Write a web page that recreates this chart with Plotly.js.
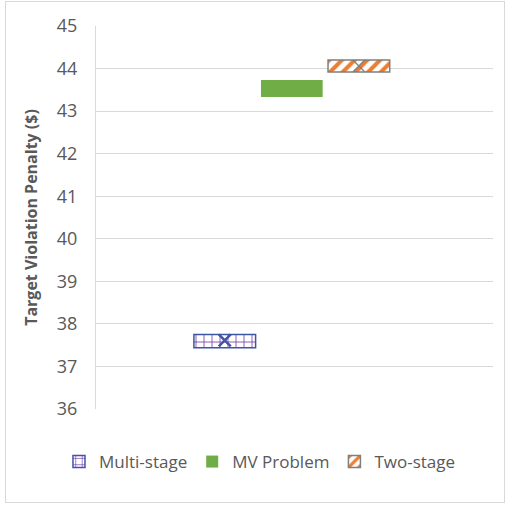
<!DOCTYPE html>
<html><head><meta charset="utf-8">
<script src="https://cdn.plot.ly/plotly-3.0.1.min.js"></script>
<style>
body{margin:0;background:#fff;}
#frame{position:absolute;left:5px;top:1px;width:500px;height:502px;border:1px solid #d9d9d9;box-sizing:border-box;}
#chart{width:498px;height:500px;}
</style></head>
<body><div id="frame"><div id="chart"></div></div>
<script>
const categories = ['Multi-stage', 'MV Problem', 'Two-stage'];
const q1Values = [37.44, 43.33, 43.92];
const q3Values = [37.75, 43.73, 44.20];
const meanValues = [37.61, 43.53, 44.06];
const yTicks = [36, 37, 38, 39, 40, 41, 42, 43, 44, 45];

const styles = [
  {fill:'#ffffff', line:'#3f55a5', lw:1.5, pattern:{shape:'+', fgcolor:'#7a3fb0', bgcolor:'#ffffff', size:8, solidity:0.2}, mean:'#3f55a5', mw:2.5},
  {fill:'#70ad47', line:'#70ad47', lw:0, pattern:null, mean:'#70ad47', mw:1.5},
  {fill:'#ffffff', line:'#7f7f7f', lw:1.5, pattern:{shape:'/', fgcolor:'#ed7d31', bgcolor:'#ffffff', size:9, solidity:0.45}, mean:'#7f7f7f', mw:1.2}
];

const traces = [];
categories.forEach((c, i) => {
  const s = styles[i];
  const m = {color: s.fill, line:{color:s.line, width:s.lw}};
  if (s.pattern) m.pattern = s.pattern;
  traces.push({
    type:'bar', name:c, x:[c], y:[q3Values[i]-q1Values[i]], base:[q1Values[i]],
    width:0.92, marker:m, showlegend:true, hoverinfo:'skip'
  });
});
categories.forEach((c, i) => {
  const s = styles[i];
  traces.push({
    type:'scatter', mode:'markers', x:[c], y:[meanValues[i]], showlegend:false,
    marker:{symbol:'x-thin', size:12, line:{color:s.mean, width:s.mw}}, hoverinfo:'skip'
  });
});

const layout = {
  width:498, height:500,
  margin:{l:90, r:11, t:24, b:93},
  paper_bgcolor:'#ffffff', plot_bgcolor:'#ffffff',
  font:{family:'Open Sans, Liberation Sans, sans-serif', color:'#595959'},
  showlegend:true,
  legend:{orientation:'h', xref:'container', yref:'container', x:0.51, xanchor:'center', y:0.08, yanchor:'middle',
          font:{size:17, color:'#595959'}, itemwidth:30, traceorder:'normal'},
  xaxis:{type:'category', categoryarray:categories, range:[-1.92, 4.0],
         showticklabels:false, showgrid:false, zeroline:false, showline:false, ticks:'', fixedrange:true},
  yaxis:{range:[36, 45], tickvals:yTicks, ticktext:yTicks.map(String),
         showgrid:true, gridcolor:'#d9d9d9', gridwidth:1, zeroline:false,
         showline:true, linecolor:'#d9d9d9', linewidth:1,
         ticks:'', ticklabelstandoff:14, tickfont:{size:18, color:'#595959'},
         title:{text:'Target Violation Penalty ($)', font:{size:16, color:'#595959', weight:'bold'}, standoff:15}}
};
Plotly.newPlot('chart', traces, layout, {displayModeBar:false, staticPlot:true});
</script></body></html>
